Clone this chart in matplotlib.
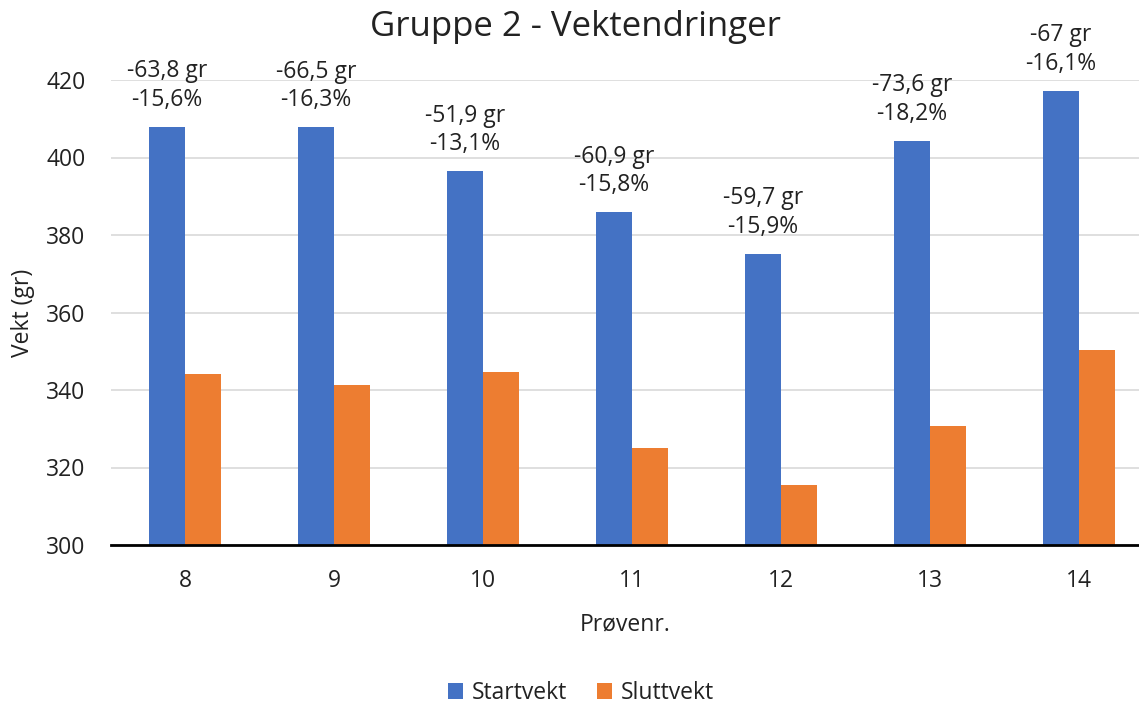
import matplotlib
matplotlib.use("Agg")
import matplotlib.pyplot as plt
import numpy as np

categories = ["8", "9", "10", "11", "12", "13", "14"]
startvekt = [407.9, 407.8, 396.5, 385.9, 375.1, 404.3, 417.2]
sluttvekt = [344.1, 341.3, 344.6, 325.0, 315.4, 330.7, 350.2]
diff_labels = ["-63,8 gr", "-66,5 gr", "-51,9 gr", "-60,9 gr", "-59,7 gr", "-73,6 gr", "-67 gr"]
pct_labels = ["-15,6%", "-16,3%", "-13,1%", "-15,8%", "-15,9%", "-18,2%", "-16,1%"]
yticks = [300, 320, 340, 360, 380, 400, 420]

plt.rcParams['font.family'] = ['Open Sans', 'DejaVu Sans']

fig = plt.figure(figsize=(11.39, 7.05), dpi=100)
ax = fig.add_axes([110.5/1139, 1-545/705, 1-110.5/1139, (545-80)/705])

x = np.arange(len(categories))
w = 0.24
blue = "#4472C4"
orange = "#ED7D31"
txt = "#222222"
fs = 16.5
ax.bar(x - w/2, startvekt, w, color=blue, label="Startvekt", zorder=3)
ax.bar(x + w/2, sluttvekt, w, color=orange, label="Sluttvekt", zorder=3)

ax.set_ylim(300, 420)
ax.set_xlim(-0.5, (1139-110.5)/149 - 0.5)
ax.set_yticks(yticks)
ax.set_xticks(x)
ax.set_xticklabels(categories)
ax.yaxis.grid(True, color="#d9d9d9", linewidth=1.2, zorder=0)
for s in ["top", "right", "left"]:
    ax.spines[s].set_visible(False)
ax.spines["bottom"].set_color("#000000")
ax.spines["bottom"].set_linewidth(2)
ax.spines["bottom"].set_zorder(4)
ax.tick_params(axis="both", length=0, labelsize=fs, colors=txt)
ax.tick_params(axis="x", pad=17)
ax.tick_params(axis="y", pad=18)

for i in range(len(categories)):
    ax.annotate(pct_labels[i], xy=(x[i] - w/2, startvekt[i]), xytext=(0, 19.5),
                textcoords="offset points", ha="center", va="center",
                fontsize=fs, color=txt, clip_on=False)
    ax.annotate(diff_labels[i], xy=(x[i] - w/2, startvekt[i]), xytext=(0, 40),
                textcoords="offset points", ha="center", va="center",
                fontsize=fs, color=txt, clip_on=False)

ax.set_ylabel("Vekt (gr)", fontsize=fs, color=txt, labelpad=8)
ax.set_xlabel("Prøvenr.", fontsize=fs, color=txt, labelpad=14)
fig.text(0.505, 1-27/705, "Gruppe 2 - Vektendringer", ha="center", va="center",
         fontsize=25, color=txt)

leg = fig.legend(loc="center", bbox_to_anchor=(0.51, 1-693/705), ncol=2, frameon=False,
                 fontsize=fs, handlelength=0.65, handleheight=0.65, handletextpad=0.4,
                 columnspacing=1.3, labelcolor=txt)

fig.savefig("out.png", dpi=100)
